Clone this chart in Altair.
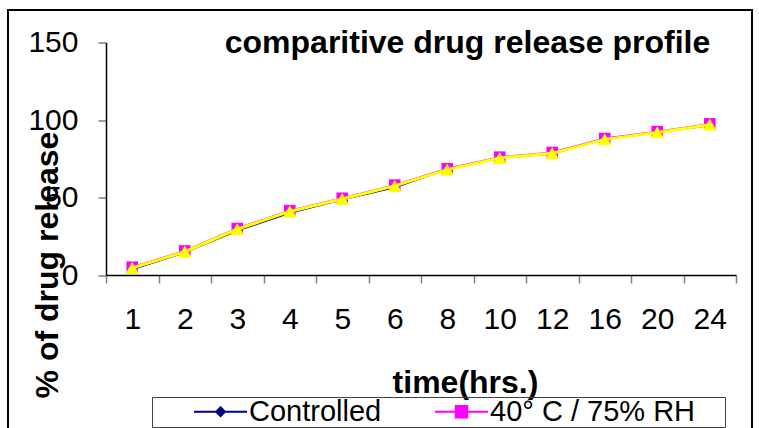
import altair as alt
import pandas as pd

hours = ["1", "2", "3", "4", "5", "6", "8", "10", "12", "16", "20", "24"]
controlled = [3.5, 14.5, 28.5, 40, 48.5, 56.5, 68, 75.5, 78, 88, 92, 96.5]
rh75 = [5, 15.5, 30, 41.5, 49.5, 58, 68.5, 76, 79, 88, 92.5, 97.5]
third = [4.5, 15, 29.5, 41, 49, 57.5, 68, 75.5, 78.5, 87.5, 92, 97]

series_names = ["Controlled", "40° C / 75% RH", "Series 3"]
series_values = [controlled, rh75, third]
series_colors = ["#000080", "#FF00FF", "#FFFF00"]
y_ticks = [0, 50, 100, 150]

rows = []
for name, vals in zip(series_names, series_values):
    for h, v in zip(hours, vals):
        rows.append({"time": h, "value": v, "series": name})
df = pd.DataFrame(rows)

FONT = "Liberation Sans"

x_enc = alt.X(
    "time:N",
    sort=hours,
    scale=alt.Scale(type="band", paddingInner=0, paddingOuter=0),
    axis=alt.Axis(
        title="time(hrs.)",
        labelAngle=0,
        tickBand="extent",
        labelPadding=21,
        titleX=359,
        titleY=117,
        titleAlign="center",
        titleBaseline="alphabetic",
    ),
)
y_enc = alt.Y(
    "value:Q",
    scale=alt.Scale(domain=[0, 150], nice=False, zero=True),
    axis=alt.Axis(
        title="% of drug release",
        values=y_ticks,
        labelPadding=20,
        titleAngle=270,
        titleX=-59,
        titleY=222,
        titleAlign="center",
        titleBaseline="middle",
    ),
)

marker_shapes = ["diamond", "square", "triangle-up"]
marker_sizes = [60, 135, 190]
line_widths = [1.5, 2, 3]

layers = []
for name, col, shp, sz, lw in zip(series_names, series_colors, marker_shapes, marker_sizes, line_widths):
    base = alt.Chart(df).transform_filter(alt.datum.series == name)
    layers.append(base.mark_line(color=col, strokeWidth=lw).encode(x=x_enc, y=y_enc))
    layers.append(
        base.mark_point(filled=True, shape=shp, size=sz, color=col, opacity=1).encode(x=x_enc, y=y_enc)
    )

legend_paths = [
    "M-3,0H3M0,-0.5L0.5,0L0,0.5L-0.5,0Z",
    "M-3,0H3M-0.65,-0.65H0.65V0.65H-0.65Z",
    "M-3,0H3M0,-0.6L0.6,0.5H-0.6Z",
]
leg = alt.Legend(
    title=" ",
    titleOrient="right",
    titlePadding=30,
    titleFontSize=8,
    orient="none",
    legendX=46,
    legendY=354.5,
    values=series_names[:2],
    direction="horizontal",
    strokeColor="#404040",
    padding=0,
    symbolOffset=54,
    labelOffset=14,
    columnPadding=11,
    labelFontSize=29,
    labelFont=FONT,
    labelColor="#000000",
    labelLimit=400,
    symbolSize=313,
    symbolStrokeWidth=2,
    symbolOpacity=1,
)
legend_layer = (
    alt.Chart(df)
    .transform_filter(alt.datum.value < 0)
    .mark_point(filled=True, size=313)
    .encode(
        x=x_enc,
        y=y_enc,
        fill=alt.Fill("series:N", scale=alt.Scale(domain=series_names, range=series_colors), legend=leg),
        stroke=alt.Stroke("series:N", scale=alt.Scale(domain=series_names, range=series_colors), legend=leg),
        shape=alt.Shape("series:N", scale=alt.Scale(domain=series_names, range=legend_paths), legend=leg),
    )
)

frame = (
    alt.Chart(alt.Data(values=[{"k": 1}]))
    .mark_rect(fill=None, stroke="#000000", strokeWidth=2)
    .encode(x=alt.value(-98), x2=alt.value(646), y=alt.value(-32.5), y2=alt.value(460))
)

chart = (
    alt.layer(frame, *layers, legend_layer)
    .properties(
        width=630,
        height=232.5,
        autosize=alt.AutoSizeParams(type="none"),
        padding={"left": 106, "top": 42.5, "right": 23, "bottom": 153},
        background="#FFFFFF",
        title=alt.TitleParams(
            text="comparitive drug release profile",
            font=FONT,
            fontSize=32,
            fontWeight="bold",
            color="#000000",
            anchor="middle",
            frame="group",
            dx=46.5,
            dy=80,
            baseline="alphabetic",
        ),
    )
    .configure_view(stroke=None)
    .configure_axis(
        labelFont=FONT,
        labelFontSize=30,
        labelColor="#000000",
        titleFont=FONT,
        titleFontSize=32,
        titleFontWeight="bold",
        titleColor="#000000",
        domainColor="#000000",
        domainWidth=1.5,
        tickColor="#808080",
        tickWidth=1.5,
        tickSize=8,
        grid=False,
    )
)

chart.save("out.html", embed_options={"renderer": "svg", "actions": False})
